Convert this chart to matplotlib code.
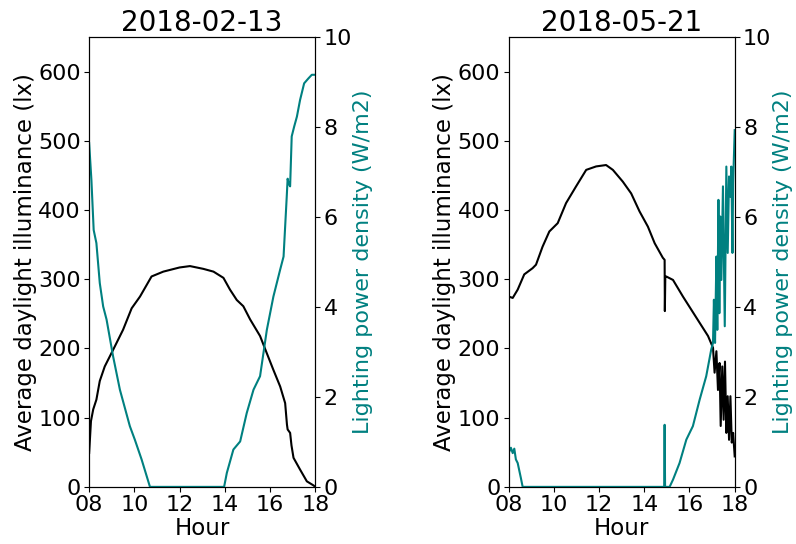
import matplotlib.pyplot as plt

# ============================================================
# DATA
# ============================================================

DATES = ["2018-02-13", "2018-05-21"]

# 2018-02-13 daylight illuminance (lx)
feb_lux_hour = [8.0, 8.08, 8.18, 8.32, 8.47, 8.69, 9.06, 9.5, 9.88, 10.25, 10.76,
                11.28, 12.0, 12.46, 13.05, 13.5, 13.94, 14.23, 14.53, 14.82, 15.12,
                15.56, 15.86, 16.15, 16.45, 16.67, 16.75, 16.78, 16.89, 16.95, 17.04,
                17.33, 17.63, 17.93, 18.0]
feb_lux = [49, 95, 112, 126, 153, 174, 198, 227, 258, 275, 304,
           311, 317, 319, 315, 311, 302, 285, 270, 261, 242,
           218, 193, 169, 145, 121, 90, 83, 78, 60, 42,
           25, 8, 2, 0]

# 2018-02-13 lighting power density (W/m2)
feb_lpd_hour = [8.0, 8.1, 8.2, 8.32, 8.47, 8.62, 8.77, 9.06, 9.36, 9.8, 10.02,
                10.32, 10.69, 13.97, 14.09, 14.38, 14.68, 14.97, 15.27, 15.56, 15.86,
                16.15, 16.45, 16.6, 16.74, 16.78, 16.82, 16.89, 16.96, 17.07, 17.19,
                17.33, 17.51, 17.7, 17.85, 18.0]
feb_lpd = [7.64, 6.82, 5.71, 5.42, 4.53, 4.01, 3.72, 2.90, 2.16, 1.35, 1.05,
           0.61, 0.0, 0.0, 0.31, 0.83, 1.01, 1.64, 2.16, 2.46, 3.49,
           4.23, 4.83, 5.12, 6.45, 6.85, 6.75, 6.68, 7.79, 8.01, 8.23,
           8.6, 8.97, 9.08, 9.16, 9.16]

# 2018-05-21 daylight illuminance (lx)
may_lux_hour = [8.0, 8.18, 8.4, 8.69, 9.06, 9.21, 9.5, 9.8, 10.17, 10.54, 10.98,
                11.43, 11.87, 12.31, 12.61, 13.05, 13.42, 13.79, 14.16, 14.46, 14.82,
                14.9, 14.91, 14.93, 14.97, 15.27, 15.71, 16.08, 16.45, 16.82, 17.04,
                17.11, 17.19, 17.26, 17.33, 17.38, 17.45, 17.51, 17.57, 17.63, 17.69,
                17.75, 17.81, 17.87, 17.93, 18.0]
may_lux = [275, 273, 285, 307, 316, 321, 347, 369, 381, 410, 434,
           458, 463, 465, 458, 441, 424, 398, 376, 352, 331,
           328, 254, 304, 304, 299, 275, 256, 237, 218, 201,
           165, 196, 140, 179, 88, 174, 97, 181, 78, 131,
           68, 131, 64, 78, 44]

# 2018-05-21 lighting power density (W/m2)
may_lpd_hour = [8.0, 8.1, 8.18, 8.25, 8.32, 8.4, 8.54, 8.62, 14.88, 14.9, 14.92,
                15.12, 15.27, 15.56, 15.86, 16.15, 16.45, 16.74, 16.96, 17.04, 17.08,
                17.13, 17.19, 17.23, 17.28, 17.32, 17.36, 17.41, 17.48, 17.56, 17.63,
                17.69, 17.75, 17.81, 17.85, 17.9, 17.93, 18.0]
may_lpd = [0.75, 0.87, 0.75, 0.85, 0.61, 0.53, 0.2, 0.0, 0.0, 1.38, 0.0,
           0.0, 0.16, 0.53, 1.05, 1.35, 1.94, 2.46, 3.05, 3.2, 4.16,
           3.2, 5.12, 3.49, 6.38, 3.86, 6.01, 4.6, 6.68, 3.57, 7.12,
           5.2, 6.9, 6.45, 7.12, 5.2, 6.75, 7.93]

HOUR_TICKS = [8, 10, 12, 14, 16, 18]
HOUR_LABELS = ["08", "10", "12", "14", "16", "18"]

LPD_COLOR = "teal"

# ============================================================
# PLOT
# ============================================================

fig = plt.figure(figsize=(7.96, 5.44), dpi=100)

panels = [
    (0.112, feb_lux_hour, feb_lux, feb_lpd_hour, feb_lpd),
    (0.639, may_lux_hour, may_lux, may_lpd_hour, may_lpd),
]

for (left, lux_h, lux, lpd_h, lpd), date in zip(panels, DATES):
    ax = fig.add_axes([left, 0.105, 0.284, 0.827])
    ax.plot(lux_h, lux, color="black", lw=1.5)
    ax.set_xlim(8, 18)
    ax.set_ylim(0, 650)
    ax.set_yticks([0, 100, 200, 300, 400, 500, 600])
    ax.set_xticks(HOUR_TICKS)
    ax.set_xticklabels(HOUR_LABELS)
    ax.tick_params(labelsize=16, pad=2.5)
    ax.set_xlabel("Hour", fontsize=16.5, labelpad=1)
    ax.set_ylabel("Average daylight illuminance (lx)", fontsize=16.5, labelpad=1)
    ax.set_title(date, fontsize=20, pad=4)

    ax2 = ax.twinx()
    ax2.plot(lpd_h, lpd, color=LPD_COLOR, lw=1.5)
    ax2.set_ylim(0, 10)
    ax2.set_yticks([0, 2, 4, 6, 8, 10])
    ax2.tick_params(labelsize=16, pad=2.5)
    ax2.set_ylabel("Lighting power density (W/m2)", fontsize=16,
                   color=LPD_COLOR, labelpad=1)

fig.savefig("out.png", dpi=100)
